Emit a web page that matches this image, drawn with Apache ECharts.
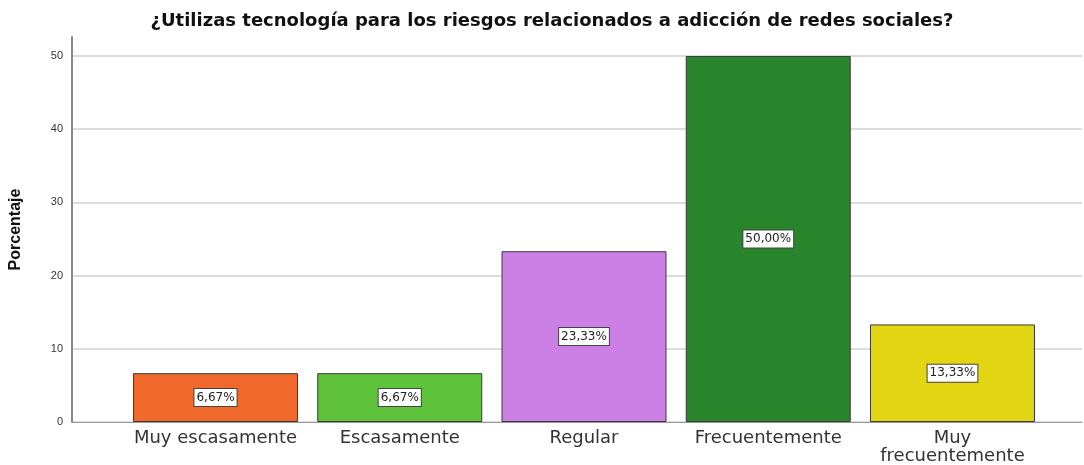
<!DOCTYPE html>
<html>
<head>
<meta charset="utf-8">
<script src="https://cdn.jsdelivr.net/npm/echarts@6/dist/echarts.min.js"></script>
<style>
  html, body { margin: 0; padding: 0; background: #fff; }
  #chart { width: 1084px; height: 465px; }
</style>
</head>
<body>
<div id="chart"></div>
<script>
const categories = ['Muy escasamente', 'Escasamente', 'Regular', 'Frecuentemente', 'Muy\nfrecuentemente']
const percentages = [6.67, 6.67, 23.33, 50.0, 13.33]
const barColors = ['#f0692b', '#5fc23b', '#cc7fe5', '#29852c', '#e2d511']
const yTicks = [0, 10, 20, 30, 40, 50]

const chart = echarts.init(document.getElementById('chart'))

const fmt = (v) => v.toFixed(2).replace('.', ',') + '%'

const option = {
  animation: false,
  title: {
    text: '¿Utilizas tecnología para los riesgos relacionados a adicción de redes sociales?',
    left: 547,
    textAlign: 'center',
    top: 7,
    textStyle: {
      fontFamily: 'DejaVu Sans',
      fontWeight: 'bold',
      fontSize: 18,
      color: '#111',
    },
  },
  grid: {
    left: 72,
    right: 2,
    top: 37,
    bottom: 41,
  },
  xAxis: {
    type: 'value',
    min: -0.779,
    max: 4.703,
    axisLine: { show: true, onZero: false, lineStyle: { color: '#999', width: 1 } },
    axisTick: { show: false },
    splitLine: { show: false },
    axisLabel: {
      customValues: categories.map((c, i) => i),
      formatter: (v) => categories[Math.round(v)] || '',
      fontFamily: 'DejaVu Sans',
      fontSize: 18,
      lineHeight: 18,
      color: '#333',
      margin: 7,
    },
  },
  yAxis: {
    type: 'value',
    min: 0,
    max: 52.6,
    interval: 10,
    name: 'Porcentaje',
    nameLocation: 'middle',
    nameGap: 48,
    nameTextStyle: {
      fontFamily: 'Liberation Sans',
      fontWeight: 'bold',
      fontSize: 16,
      color: '#111',
    },
    axisLine: { show: true, onZero: false, lineStyle: { color: '#888', width: 2 } },
    axisTick: { show: false },
    axisLabel: {
      showMaxLabel: false,
      formatter: (v) => (yTicks.includes(v) ? String(v) : ''),
      fontFamily: 'Liberation Sans',
      fontSize: 11,
      color: '#333',
      margin: 9,
    },
    splitLine: {
      show: true,
      showMaxLine: false,
      lineStyle: { color: '#dcdcdc', width: 2 },
    },
  },
  series: [
    {
      type: 'bar',
      barWidth: 165,
      data: percentages.map((v, i) => ({
        value: [i, v],
        itemStyle: { color: barColors[i] },
      })),
      itemStyle: {
        borderColor: '#3a3a3a',
        borderWidth: 1,
      },
      label: {
        show: true,
        position: 'inside',
        formatter: (p) => fmt(p.value[1]),
        fontFamily: 'DejaVu Sans',
        fontSize: 12,
        color: '#222',
        backgroundColor: '#fff',
        borderColor: '#444',
        borderWidth: 1,
        padding: [3, 2, 2, 2],
      },
    },
  ],
}

chart.setOption(option)
</script>
</body>
</html>
